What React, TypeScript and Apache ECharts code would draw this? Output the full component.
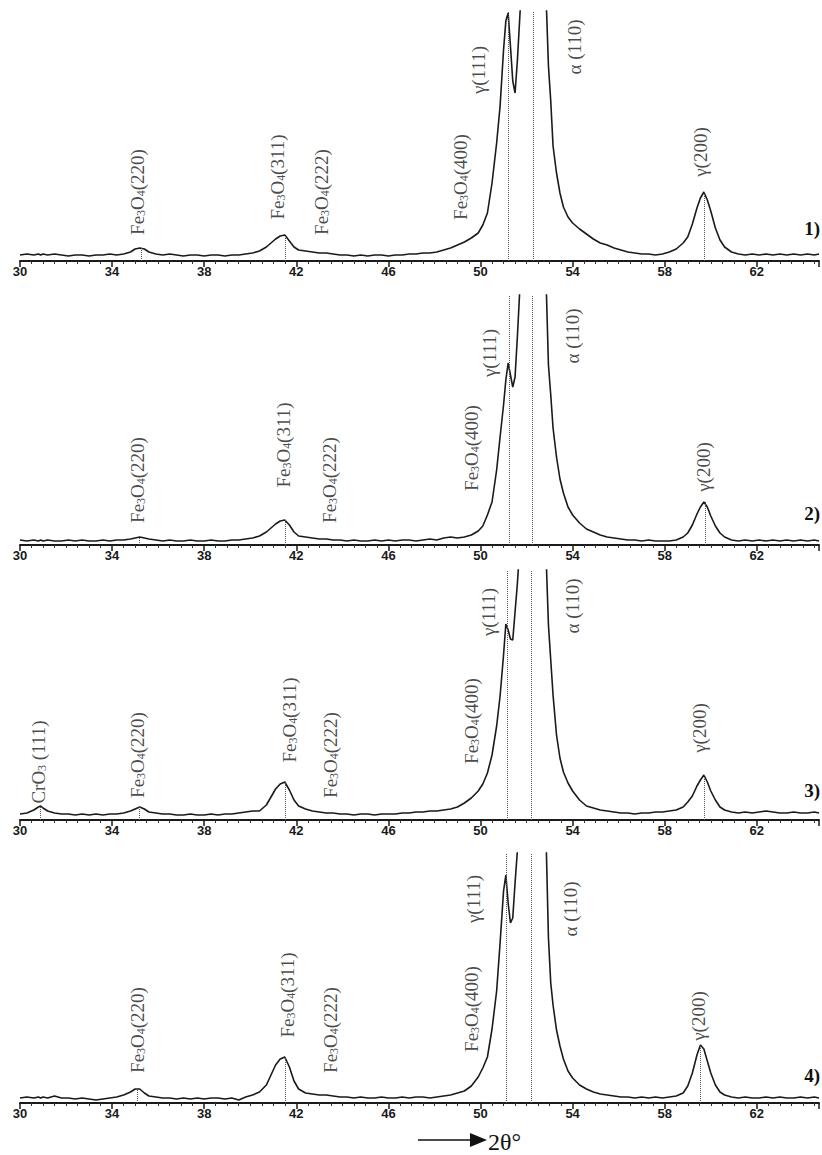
import React, { useEffect, useRef } from "react";
import * as echarts from "echarts";

// 2θ sample positions (degrees), shared by the four patterns
const twoTheta = [
  30.0, 30.3, 30.6, 30.8, 30.9, 31.0, 31.2, 31.5, 31.8, 32.1,
  32.4, 32.7, 33.0, 33.3, 33.6, 33.9, 34.2, 34.5, 34.8, 35.0,
  35.2, 35.4, 35.6, 35.9, 36.2, 36.5, 36.8, 37.1, 37.4, 37.7,
  38.0, 38.3, 38.6, 38.9, 39.2, 39.5, 39.8, 40.1, 40.4, 40.7,
  40.9, 41.1, 41.3, 41.5, 41.7, 41.9, 42.1, 42.4, 42.7, 43.0,
  43.3, 43.6, 43.9, 44.2, 44.5, 44.8, 45.1, 45.4, 45.7, 46.0,
  46.3, 46.6, 46.9, 47.2, 47.5, 47.8, 48.1, 48.4, 48.7, 49.0,
  49.3, 49.6, 49.9, 50.1, 50.3, 50.5, 50.7, 50.85, 51.0, 51.1,
  51.2, 51.3, 51.4, 51.5, 51.6, 51.75, 52.0, 52.3, 52.6, 52.85,
  52.95, 53.05, 53.15, 53.3, 53.45, 53.6, 53.8, 54.0, 54.3, 54.6,
  54.9, 55.2, 55.5, 55.8, 56.1, 56.4, 56.7, 57.0, 57.3, 57.6,
  57.9, 58.2, 58.5, 58.8, 59.0, 59.2, 59.4, 59.55, 59.7, 59.85,
  60.0, 60.2, 60.4, 60.6, 60.9, 61.2, 61.5, 61.8, 62.1, 62.4,
  62.7, 63.0, 63.3, 63.6, 63.9, 64.2, 64.5, 64.7,
];

// intensities (arbitrary units)
const pattern1 = [
  6, 7, 6, 7, 6, 7, 6, 7, 6, 5,
  6, 6, 5, 6, 6, 7, 6, 7, 9, 12,
  13, 12, 9, 7, 6, 7, 6, 5, 6, 6,
  5, 6, 6, 5, 6, 6, 7, 8, 10, 14,
  18, 22, 25, 26, 20, 14, 11, 10, 9, 8,
  8, 7, 6, 6, 5, 6, 5, 6, 6, 5,
  6, 6, 7, 7, 8, 8, 9, 11, 13, 16,
  19, 23, 28, 36, 48, 78, 118, 155, 211, 240,
  248, 215, 180, 168, 200, 262, 600, 900, 600, 262,
  195, 160, 115, 88, 68, 54, 44, 38, 32, 27,
  22, 18, 16, 13, 11, 9, 8, 7, 7, 6,
  7, 9, 12, 18, 24, 37, 53, 63, 69, 61,
  50, 33, 21, 14, 9, 7, 6, 7, 6, 7,
  6, 7, 6, 7, 6, 7, 6, 7,
];
const pattern2 = [
  5, 4, 5, 4, 5, 4, 5, 4, 4, 5,
  4, 5, 4, 4, 5, 4, 5, 5, 6, 7,
  8, 7, 6, 5, 4, 5, 4, 4, 5, 4,
  4, 5, 4, 4, 5, 5, 6, 7, 9, 13,
  17, 21, 24, 25, 20, 13, 9, 8, 7, 6,
  6, 5, 5, 4, 5, 4, 4, 5, 4, 5,
  4, 5, 5, 4, 5, 6, 5, 7, 8, 7,
  8, 10, 14, 19, 30, 43, 75, 108, 140, 165,
  182, 170, 158, 168, 208, 275, 600, 900, 600, 262,
  180, 150, 117, 88, 66, 52, 38, 30, 22, 16,
  13, 10, 8, 7, 6, 5, 5, 4, 5, 4,
  4, 4, 5, 8, 12, 20, 31, 38, 43, 38,
  29, 19, 12, 8, 5, 4, 5, 4, 5, 4,
  5, 4, 5, 4, 5, 4, 5, 4,
];
const pattern3 = [
  6, 7, 10, 13, 14, 12, 9, 7, 6, 6,
  5, 6, 5, 6, 5, 6, 6, 7, 9, 11,
  13, 11, 8, 7, 6, 6, 5, 5, 6, 5,
  5, 6, 5, 6, 6, 7, 8, 9, 9, 15,
  23, 31, 36, 38, 30, 20, 14, 11, 9, 8,
  7, 7, 6, 6, 5, 6, 6, 5, 6, 6,
  6, 7, 7, 8, 8, 9, 9, 10, 11, 13,
  17, 22, 29, 36, 47, 65, 94, 124, 165, 196,
  190, 181, 180, 208, 236, 290, 600, 900, 600, 262,
  195, 160, 125, 85, 62, 48, 37, 29, 20, 14,
  12, 10, 9, 8, 7, 7, 6, 7, 7, 8,
  8, 9, 10, 13, 18, 24, 34, 40, 45, 38,
  29, 20, 13, 10, 8, 7, 8, 7, 8, 9,
  8, 7, 7, 8, 7, 7, 8, 7,
];
const pattern4 = [
  5, 6, 5, 6, 5, 6, 5, 7, 5, 5,
  4, 5, 4, 3, 4, 5, 6, 8, 11, 14,
  14, 10, 7, 6, 5, 5, 4, 5, 4, 5,
  4, 5, 5, 4, 5, 3, 6, 8, 11, 18,
  28, 38, 44, 46, 36, 22, 14, 10, 9, 8,
  8, 7, 6, 6, 5, 6, 5, 5, 6, 5,
  5, 6, 5, 6, 6, 5, 6, 7, 8, 10,
  12, 17, 26, 35, 46, 74, 112, 160, 212, 228,
  200, 180, 185, 220, 252, 320, 600, 900, 600, 262,
  165, 120, 98, 73, 57, 44, 32, 25, 18, 14,
  11, 9, 8, 7, 6, 6, 5, 6, 5, 6,
  5, 6, 7, 10, 17, 30, 48, 58, 54, 42,
  30, 18, 11, 8, 6, 5, 6, 5, 5, 6,
  5, 6, 5, 5, 6, 5, 6, 5,
];

const xTicks = [30, 34, 38, 42, 46, 50, 54, 58, 62];
const panelNames = ["1)", "2)", "3)", "4)"];

// reflection markers: [2θ, intensity at which the dotted line stops]
const refLines1 = [[51.2, 250], [52.3, 250], [35.25, 13], [41.5, 26], [59.7, 69]];
const refLines2 = [[51.25, 250], [52.25, 250], [35.2, 8], [41.5, 25], [59.75, 43]];
const refLines3 = [[51.15, 250], [52.2, 250], [30.9, 14], [35.2, 13], [41.5, 38], [59.7, 45]];
const refLines4 = [[51.1, 250], [52.2, 250], [35.1, 14], [41.5, 46], [59.55, 58]];

// peak annotations: [2θ, height, text]
const peakLabels1 = [
  [35.1, 69, "Fe{s|3}O{s|4}(220)"],
  [41.17, 84, "Fe{s|3}O{s|4}(311)"],
  [43.1, 69, "Fe{s|3}O{s|4}(222)"],
  [49.13, 84, "Fe{s|3}O{s|4}(400)"],
  [49.9, 191, "γ(111)"],
  [54.1, 214, "α (110)"],
  [59.57, 109, "γ(200)"],
];
const peakLabels2 = [
  [35.1, 65, "Fe{s|3}O{s|4}(220)"],
  [41.45, 100, "Fe{s|3}O{s|4}(311)"],
  [43.45, 65, "Fe{s|3}O{s|4}(222)"],
  [49.6, 97, "Fe{s|3}O{s|4}(400)"],
  [50.4, 192, "γ(111)"],
  [54.0, 209, "α (110)"],
  [59.7, 78, "γ(200)"],
];
const peakLabels3 = [
  [30.8, 58, "CrO{s|3} (111)"],
  [35.1, 65, "Fe{s|3}O{s|4}(220)"],
  [41.7, 100, "Fe{s|3}O{s|4}(311)"],
  [43.5, 65, "Fe{s|3}O{s|4}(222)"],
  [49.6, 99, "Fe{s|3}O{s|4}(400)"],
  [50.35, 208, "γ(111)"],
  [54.0, 214, "α (110)"],
  [59.5, 92, "γ(200)"],
];
const peakLabels4 = [
  [35.1, 73, "Fe{s|3}O{s|4}(220)"],
  [41.6, 108, "Fe{s|3}O{s|4}(311)"],
  [43.5, 73, "Fe{s|3}O{s|4}(222)"],
  [49.6, 94, "Fe{s|3}O{s|4}(400)"],
  [49.7, 204, "γ(111)"],
  [53.9, 194, "α (110)"],
  [59.45, 87, "γ(200)"],
];

const patterns = [pattern1, pattern2, pattern3, pattern4];
const refLines = [refLines1, refLines2, refLines3, refLines4];
const peakLabels = [peakLabels1, peakLabels2, peakLabels3, peakLabels4];

const GRID_TOPS = [11, 295, 570, 853];
const GRID_H = 250;
const PANEL_LABEL_Y = [228, 513, 790, 1075];
const INK = "#1a1a1a";
const SERIF = "'Liberation Serif', 'DejaVu Serif', serif";

function buildOption() {
  const grid = GRID_TOPS.map((t) => ({ left: 20, right: 0, top: t, height: GRID_H }));
  const xAxis = GRID_TOPS.map((_, i) => ({
    gridIndex: i,
    type: "value",
    min: 30,
    max: 64.7,
    interval: 4,
    axisLine: { onZero: false, lineStyle: { color: INK, width: 2 } },
    axisTick: { show: true, length: 6, lineStyle: { color: INK, width: 1.5 } },
    minorTick: { show: true, splitNumber: 8, length: 3, lineStyle: { color: "#333", width: 1 } },
    splitLine: { show: false },
    minorSplitLine: { show: false },
    axisLabel: {
      margin: 4,
      color: INK,
      fontFamily: "'Liberation Sans Narrow', 'Liberation Sans', Arial, sans-serif",
      fontWeight: "bold",
      fontSize: 13,
      formatter: (v: number) => (xTicks.includes(Math.round(v * 100) / 100) ? String(v) : ""),
    },
  }));
  const yAxis = GRID_TOPS.map((_, i) => ({
    gridIndex: i,
    type: "value",
    min: 0,
    max: GRID_H,
    show: false,
  }));
  const series: any[] = [];
  patterns.forEach((pat, i) => {
    series.push({
      type: "line",
      xAxisIndex: i,
      yAxisIndex: i,
      data: twoTheta.map((t, k) => [t, pat[k]]),
      symbol: "none",
      showSymbol: false,
      clip: true,
      silent: true,
      lineStyle: { color: INK, width: 1.6 },
      markLine: {
        silent: true,
        symbol: "none",
        label: { show: false },
        lineStyle: { type: "dotted", color: "#555", width: 1 },
        data: refLines[i].map(([x, h]) => [{ coord: [x, 0] }, { coord: [x, h] }]),
      },
    });
    series.push({
      type: "scatter",
      xAxisIndex: i,
      yAxisIndex: i,
      symbolSize: 1,
      silent: true,
      itemStyle: { color: "rgba(0,0,0,0)" },
      data: peakLabels[i].map(([x, y, t]) => ({ value: [x, y], name: t })),
      label: {
        show: true,
        position: "inside",
        rotate: 90,
        formatter: (p: any) => p.name,
        color: INK,
        textBorderWidth: 0,
        textBorderColor: "transparent",
        fontFamily: SERIF,
        fontSize: 19,
        rich: {
          s: {
            fontSize: 12,
            color: INK,
            fontFamily: SERIF,
            verticalAlign: "bottom",
            textBorderWidth: 0,
          },
        },
      },
    });
  });

  const graphic: any[] = panelNames.map((name, i) => ({
    type: "text",
    x: 820,
    y: PANEL_LABEL_Y[i],
    style: {
      text: name,
      font: "bold 19px 'Liberation Serif', serif",
      fill: "#111",
      align: "right",
      verticalAlign: "middle",
    },
  }));
  graphic.push(
    { type: "line", shape: { x1: 418, y1: 1140, x2: 474, y2: 1140 }, style: { stroke: "#111", lineWidth: 1.5 } },
    { type: "polygon", shape: { points: [[470, 1133], [487, 1140], [470, 1147]] }, style: { fill: "#111" } },
    {
      type: "text",
      x: 488,
      y: 1142,
      style: {
        text: "2θ°",
        font: "24px 'Liberation Serif', serif",
        fill: "#111",
        align: "left",
        verticalAlign: "middle",
      },
    }
  );

  return {
    animation: false,
    backgroundColor: "#ffffff",
    grid,
    xAxis,
    yAxis,
    series,
    graphic,
  };
}

export default function App() {
  const ref = useRef<HTMLDivElement>(null);
  useEffect(() => {
    if (!ref.current) return;
    const chart = echarts.init(ref.current, undefined, { renderer: "svg" });
    chart.setOption(buildOption() as any);
    return () => chart.dispose();
  }, []);
  return (
    <div
      ref={ref}
      style={{ position: "absolute", left: 0, top: 0, width: 822, height: 1155, background: "#fff" }}
    />
  );
}
